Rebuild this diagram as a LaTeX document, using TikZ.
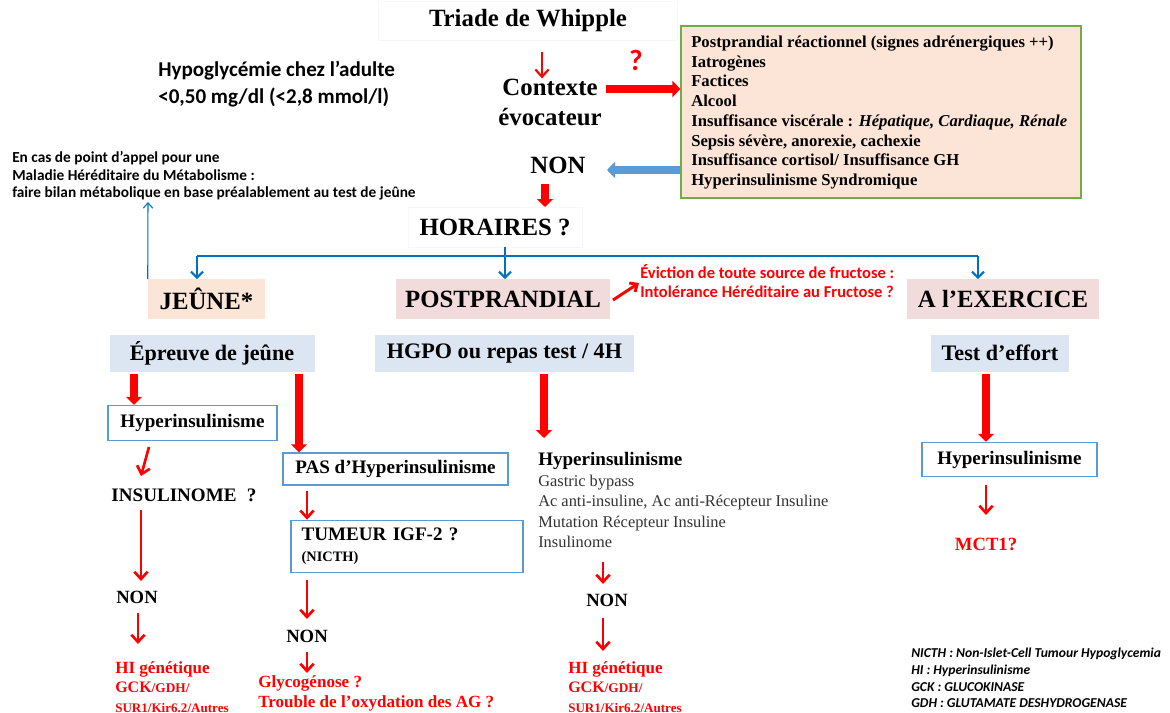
\documentclass[tikz,border=0pt]{standalone}
\usepackage{fontspec}
\setmainfont{Liberation Serif}
\newfontfamily\calibfont{Carlito}
\usetikzlibrary{arrows.meta}

\definecolor{ctxfill}{HTML}{FCE4D6}
\definecolor{ctxedge}{HTML}{70AD47}
\definecolor{jeunefill}{HTML}{FBE5D6}
\definecolor{rosefill}{HTML}{F2DCDB}
\definecolor{testfill}{HTML}{DCE6F2}
\definecolor{boxblue}{HTML}{5B9BD5}
\definecolor{conblue}{HTML}{0070C0}
\definecolor{fatblue}{HTML}{5B9BD5}
\definecolor{listgray}{HTML}{333333}

\newcommand\fsz[2]{\fontsize{#1}{#2}\selectfont}

\begin{document}
\begin{tikzpicture}[x=0.75pt,y=-0.75pt,
  big/.style={font=\bfseries\fsz{18.6}{22.5}, inner sep=0pt, align=center},
  headbox/.style={big, minimum height=29.5pt},
  testbox/.style={font=\bfseries\fsz{16.6}{20}, inner sep=0pt, fill=testfill, minimum height=27.75pt},
  bluebox/.style={draw=boxblue, line width=1.1pt, fill=white, inner sep=0pt,
                  font=\bfseries\fsz{14.3}{17}},
  plain/.style={inner sep=0pt, font=\bfseries\fsz{14.3}{17}},
  redtxt/.style={inner sep=0pt, text=red, align=left},
  fatred/.style={draw=red, line width=6pt, -{Triangle[length=6pt,width=12pt]}},
  thinred/.style={draw=red, line width=2pt, -{Straight Barb[length=5.5pt,width=10pt]}},
  bluecon/.style={draw=conblue, line width=1.6pt},
  bluetip/.style={-{Straight Barb[length=4.5pt,width=9pt]}},
  bluefat/.style={draw=fatblue, line width=6pt, -{Triangle[length=6pt,width=12pt]}},
  faintframe/.style={draw=black!3, line width=0.5pt}]

\useasboundingbox (0,0) rectangle (1170,713);
\fill[white] (0,0) rectangle (1170,713);

% ---------- top: Whipple triad and context ----------
\node[big, faintframe, minimum width=224pt, minimum height=29pt] (whip) at (528,21) {Triade de Whipple};
\node[big] (ctx) at (550,102) {Contexte\\évocateur};
\node[inner sep=0pt, text=red, font=\calibfont\bfseries\fsz{22}{24}] (qm) at (636,60) {?};

\node[inner sep=0pt, anchor=west, align=left, font=\calibfont\bfseries\fsz{15.8}{20}] (hypo) at (158,84)
  {Hypoglycémie chez l’adulte\\<0,50 mg/dl (<2,8 mmol/l)};

\node[draw=ctxedge, fill=ctxfill, line width=0.9pt, minimum width=300pt, minimum height=129pt, inner sep=0pt]
  (ctxbox) at (881,112) {};
\node[anchor=west, inner sep=0pt, align=left, font=\bfseries\fsz{12.5}{14.8}] (ctxlist) at (691,112.5)
  {Postprandial réactionnel (signes adrénergiques ++)\\
   Iatrogènes\\
   Factices\\
   Alcool\\
   Insuffisance viscérale : \textit{Hépatique, Cardiaque, Rénale}\\
   Sepsis sévère, anorexie, cachexie\\
   Insuffisance cortisol/ Insuffisance GH\\
   Hyperinsulinisme Syndromique};

\node[big] (non1) at (558,165) {NON};
\node[big, faintframe, minimum width=130.5pt, minimum height=30pt] (hor) at (495,227) {HORAIRES ?};

\coordinate (w1) at (542,52);
\draw[thinred, line width=1.6pt] (w1) -- (w1 |- ctx.north);
\coordinate (c1) at (606,89);
\draw[fatred] (c1) -- (c1 -| ctxbox.west);
\coordinate (b1) at (607,170);
\draw[bluefat] (b1 -| ctxbox.west) -- (b1);
\coordinate (n1a) at (545,184);
\coordinate (n1b) at (545,207);
\draw[fatred] (n1a) -- (n1b);

% ---------- branching on timing ----------
\node[headbox, fill=jeunefill, minimum width=87.75pt] (jeune) at (206.5,299) {JEÛNE*};
\node[headbox, fill=rosefill, minimum width=160.5pt] (postp) at (503,299) {POSTPRANDIAL};
\node[headbox, fill=rosefill, minimum width=144pt] (exer) at (1003,299) {A l’EXERCICE};

\coordinate (barL) at (197,256);
\coordinate (barM) at (505,256);
\coordinate (barR) at (978,256);
\draw[bluecon] (barL) -- (barR);
\draw[bluecon] (hor.south -| barM) -- (barM);
\draw[bluecon, bluetip] (barL) -- (barL |- jeune.north);
\draw[bluecon, bluetip] (barM) -- (barM |- postp.north);
\draw[bluecon, bluetip] (barR) -- (barR |- exer.north);

% metabolic work-up note
\node[anchor=west, inner sep=0pt, align=left, font=\calibfont\bfseries\fsz{11.5}{13.1}] (mhm) at (12,176)
  {En cas de point d’appel pour une\\
   Maladie Héréditaire du Métabolisme :\\
   faire bilan métabolique en base préalablement au test de jeûne};
\coordinate (mhmtip) at (148,202);
\draw[conblue, line width=0.8pt, -{Straight Barb[length=4pt,width=7pt]}] (jeune.north west) -- (mhmtip);

% fructose note
\node[anchor=west, redtxt, font=\calibfont\bfseries\fsz{12.4}{14.25}] (fruc) at (640,281.5)
  {Éviction de toute source de fructose :\\Intolérance Héréditaire au Fructose ?};
\coordinate (f1) at (613,300);
\coordinate (f2) at (639,283);
\draw[draw=red, line width=2.2pt, -{Straight Barb[length=4.5pt,width=8pt]}] (f1) -- (f2);

% ---------- tests ----------
\node[testbox, minimum width=153.75pt] (epreuve) at (212,353.5) {Épreuve de jeûne};
\node[testbox, minimum width=194.25pt] (hgpo) at (504.5,353.5) {HGPO ou repas test / 4H};
\node[testbox, minimum width=103.5pt] (teff) at (1000,353) {Test d’effort};

% ---------- fasting column ----------
\node[bluebox, minimum width=126.75pt, minimum height=26.25pt] (hyp1) at (192.5,423) {Hyperinsulinisme};
\coordinate (e1) at (134,374);
\draw[fatred] (e1) -- (e1 |- hyp1.north);
\node[bluebox, minimum width=168.75pt, minimum height=24pt] (pas) at (395.5,469) {PAS d’Hyperinsulinisme};
\coordinate (e2) at (299,374);
\draw[fatred] (e2) -- (e2 |- pas.north);

\coordinate (h1) at (149,447);
\coordinate (h2) at (141,476);
\draw[thinred] (h1) -- (h2);
\node[plain] (insul) at (184,495) {INSULINOME\hspace{0.3em} ?};
\coordinate (i1) at (141,510);
\coordinate (i2) at (141,581);
\draw[thinred] (i1) -- (i2);
\node[plain, font=\bfseries\fsz{14}{17}] (non2) at (137,597) {NON};
\coordinate (i3) at (138,613);
\coordinate (i4) at (138,644);
\draw[thinred] (i3) -- (i4);
\node[anchor=west, redtxt, font=\bfseries\fsz{12.8}{14.6}] (hig1) at (115,687)
  {HI génétique\\
   {\fsz{12}{14.6}GCK}{\fsz{10}{14.6}/GDH/}\\
   {\fsz{9.8}{14.6}SUR1/Kir6.2/Autres}};

\node[bluebox, minimum width=174pt, minimum height=39pt, align=left, text width=158pt, inner xsep=8pt]
  (tum) at (407,546.5)
  {TUMEUR IGF-2 ?\\[-1pt]{\fsz{10.8}{13}(NICTH)}};
\coordinate (p1) at (307,491);
\draw[thinred] (p1) -- (p1 |- tum.north);
\coordinate (t1) at (307,580);
\coordinate (t2) at (307,619);
\draw[thinred] (t1) -- (t2);
\node[plain, font=\bfseries\fsz{14}{17}] (non3) at (307,636) {NON};
\coordinate (t3) at (307,652);
\coordinate (t4) at (307,673);
\draw[thinred] (t3) -- (t4);
\node[anchor=west, redtxt, font=\bfseries\fsz{12.8}{15}] (glyc) at (258,693)
  {Glycogénose ?\\Trouble de l’oxydation des AG ?};

% ---------- postprandial column ----------
\coordinate (g1) at (544,374);
\coordinate (g2) at (544,438);
\draw[fatred] (g1) -- (g2);
\node[anchor=west, inner sep=0pt, align=left, font=\fsz{12.3}{15.4}, text=listgray] (hyplist) at (538,500)
  {{\bfseries\fsz{14.3}{15.4}\color{black}Hyperinsulinisme}\\
   Gastric bypass\\
   Ac anti-insuline, Ac anti-Récepteur Insuline\\
   Mutation Récepteur Insuline\\
   Insulinome};
\coordinate (m1) at (603,562);
\coordinate (m2) at (603,584);
\draw[thinred] (m1) -- (m2);
\node[plain, font=\bfseries\fsz{14}{17}] (non4) at (607,600) {NON};
\coordinate (m3) at (603,618);
\coordinate (m4) at (603,651);
\draw[thinred] (m3) -- (m4);
\node[anchor=west, redtxt, font=\bfseries\fsz{12.8}{14.6}] (hig2) at (568,687)
  {HI génétique\\
   {\fsz{12}{14.6}GCK}{\fsz{10}{14.6}/GDH/}\\
   {\fsz{9.8}{14.6}SUR1/Kir6.2/Autres}};

% ---------- exercise column ----------
\node[bluebox, minimum width=131.25pt, minimum height=25.5pt] (hyp3) at (1009.5,459.5) {Hyperinsulinisme};
\coordinate (x1) at (986,374);
\draw[fatred] (x1) -- (x1 |- hyp3.north);
\coordinate (x2) at (986,485);
\coordinate (x3) at (986,515);
\draw[thinred] (x2) -- (x3);
\node[redtxt, font=\bfseries\fsz{14}{17}] (mct) at (986,544) {MCT1?};

% ---------- abbreviations ----------
\node[anchor=west, inner sep=0pt, align=left, font=\calibfont\bfseries\itshape\fsz{10.2}{12.5}] (leg) at (911,678)
  {NICTH : Non-Islet-Cell Tumour Hypoglycemia\\
   HI : Hyperinsulinisme\\
   GCK : GLUCOKINASE\\
   GDH : GLUTAMATE DESHYDROGENASE};

\end{tikzpicture}
\end{document}
